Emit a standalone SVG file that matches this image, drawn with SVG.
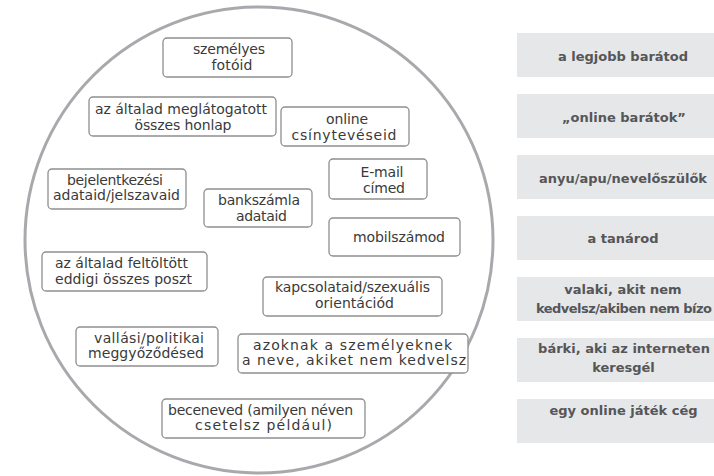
<svg xmlns="http://www.w3.org/2000/svg" width="714" height="476" viewBox="0 0 714 476">
<style>
.bg{fill:#ffffff}
.circle{fill:none;stroke:#a7a9ac;stroke-width:3}
.nb{fill:#ffffff;stroke:#8e8e8e;stroke-width:1.3}
.nt{font-family:"DejaVu Sans","Liberation Sans",sans-serif;font-size:14px;fill:#3a3a3a;text-anchor:middle}
.rb{fill:#e6e7e8}
.rt{font-family:"DejaVu Sans","Liberation Sans",sans-serif;font-size:13px;font-weight:bold;fill:#555659;text-anchor:middle}
</style>
<rect class="bg" x="0" y="0" width="714" height="476"/>
<ellipse class="circle" cx="259" cy="240" rx="234" ry="233"/>
<g id="connectors"></g>
<g id="n1"><rect class="nb" x="163" y="38" width="129" height="39" rx="4"/><text class="nt" x="229" y="54" textLength="72">személyes</text><text class="nt" x="232" y="70" textLength="41">fotóid</text></g>
<g id="n2"><rect class="nb" x="89" y="97" width="187" height="39" rx="4"/><text class="nt" x="181" y="114" textLength="172">az általad meglátogatott</text><text class="nt" x="183" y="130" textLength="97">összes honlap</text></g>
<g id="n3"><rect class="nb" x="281" y="107" width="128" height="39" rx="4"/><text class="nt" x="347" y="124" textLength="42">online</text><text class="nt" x="344" y="140" textLength="105">csínytevéseid</text></g>
<g id="n4"><rect class="nb" x="329" y="159" width="98" height="40" rx="4"/><text class="nt" x="382" y="177" textLength="43">E-mail</text><text class="nt" x="384" y="193" textLength="42">címed</text></g>
<g id="n5"><rect class="nb" x="48" y="169" width="138" height="40" rx="4"/><text class="nt" x="115" y="185" textLength="96">bejelentkezési</text><text class="nt" x="116.5" y="200" textLength="127">adataid/jelszavaid</text></g>
<g id="n6"><rect class="nb" x="204" y="189" width="108" height="38" rx="4"/><text class="nt" x="259" y="205" textLength="82">bankszámla</text><text class="nt" x="261.5" y="221" textLength="51">adataid</text></g>
<g id="n7"><rect class="nb" x="329" y="218" width="131" height="38" rx="4"/><text class="nt" x="399" y="242" textLength="92">mobilszámod</text></g>
<g id="n8"><rect class="nb" x="42" y="252" width="165" height="39" rx="4"/><text class="nt" x="121.5" y="268" textLength="133">az általad feltöltött</text><text class="nt" x="123.5" y="284" textLength="137">eddigi összes poszt</text></g>
<g id="n9"><rect class="nb" x="263" y="277" width="179" height="39" rx="4"/><text class="nt" x="352.5" y="292" textLength="155">kapcsolataid/szexuális</text><text class="nt" x="354.5" y="308" textLength="79">orientációd</text></g>
<g id="n10"><rect class="nb" x="76" y="327" width="142" height="39" rx="4"/><text class="nt" x="149" y="343" textLength="110">vallási/politikai</text><text class="nt" x="146" y="358" textLength="116">meggyőződésed</text></g>
<g id="n11"><rect class="nb" x="238" y="334" width="230" height="39" rx="4"/><text class="nt" x="352.5" y="350" textLength="199">azoknak a személyeknek</text><text class="nt" x="354" y="365" textLength="224">a neve, akiket nem kedvelsz</text></g>
<g id="n12"><rect class="nb" x="162" y="399" width="203" height="39" rx="4"/><text class="nt" x="260.5" y="415" textLength="185">beceneved (amilyen néven</text><text class="nt" x="263.5" y="430" textLength="137">csetelsz például)</text></g>
<g id="r1"><rect class="rb" x="517" y="33" width="200" height="44"/><text class="rt" x="623" y="61">a legjobb barátod</text></g>
<g id="r2"><rect class="rb" x="517" y="94" width="200" height="44"/><text class="rt" x="624" y="122">„online barátok”</text></g>
<g id="r3"><rect class="rb" x="517" y="155" width="200" height="44"/><text class="rt" x="623" y="183">anyu/apu/nevelőszülők</text></g>
<g id="r4"><rect class="rb" x="517" y="216" width="200" height="44"/><text class="rt" x="623" y="243">a tanárod</text></g>
<g id="r5"><rect class="rb" x="517" y="277" width="200" height="44"/><text class="rt" x="623" y="294">valaki, akit nem</text><text class="rt" x="536" y="313" style="text-anchor:start" textLength="176">kedvelsz/akiben nem bízo</text></g>
<g id="r6"><rect class="rb" x="517" y="338" width="200" height="44"/><text class="rt" x="624" y="353">bárki, aki az interneten</text><text class="rt" x="623.5" y="372">keresgél</text></g>
<g id="r7"><rect class="rb" x="517" y="399" width="200" height="44"/><text class="rt" x="623.5" y="415">egy online játék cég</text></g>
</svg>
